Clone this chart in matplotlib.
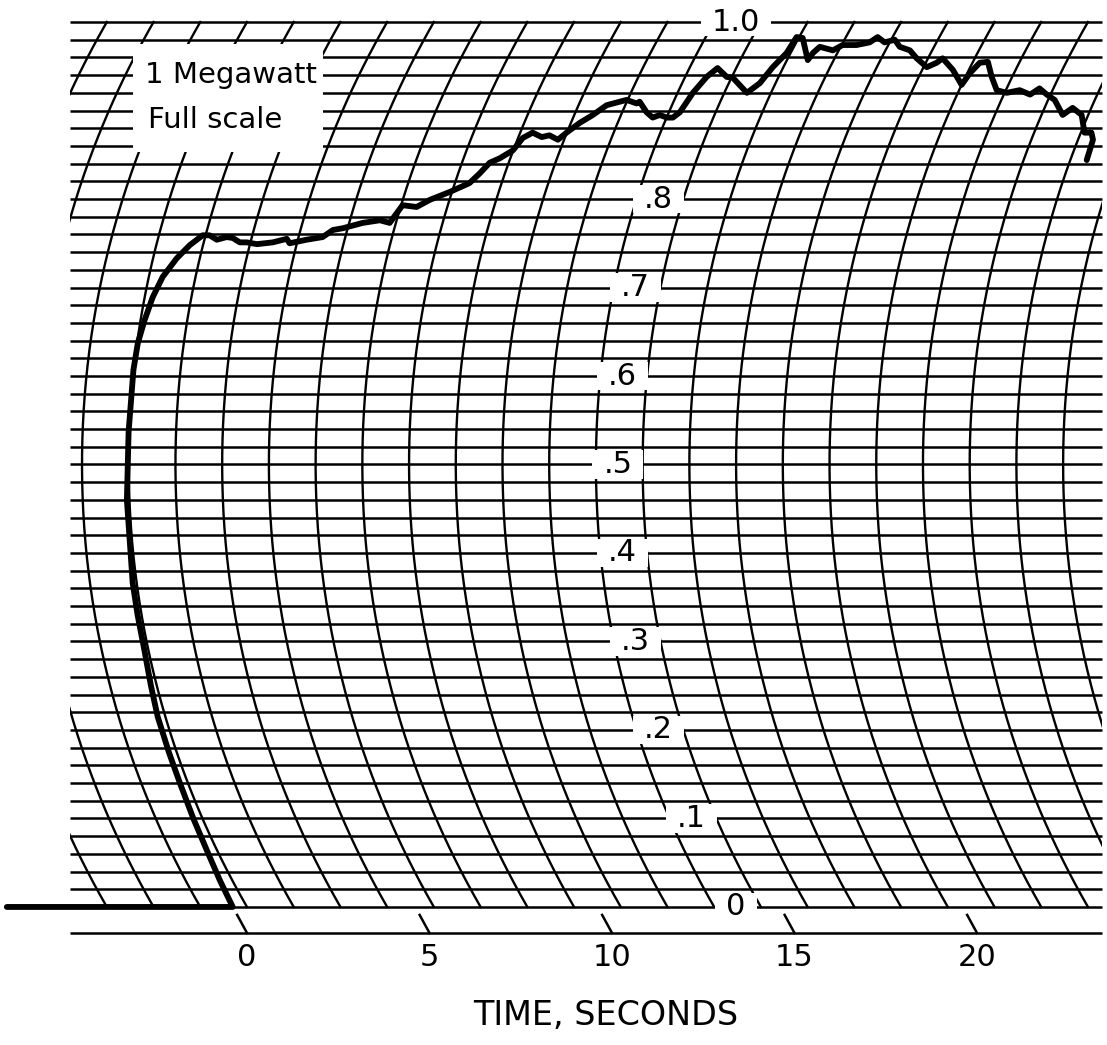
import numpy as np
import matplotlib.pyplot as plt
from matplotlib.patches import Rectangle

# pen trace: time (s) vs fraction of full scale (1 MW)
time_s = [-6.58, -0.39,
          -0.34, -0.28, -0.25, -0.22, -0.215, -0.21, -0.16, -0.11, -0.11, -0.11, -0.07,
          -0.02, -0.01, 0.02, 0.11, 0.22, 0.38, 0.65, 0.92, 1.20, 1.39,
          1.62, 1.87, 2.04, 2.27, 2.46, 2.75, 3.17, 3.53, 3.64, 4.08,
          4.50, 4.73, 4.99, 5.49, 5.94, 6.23, 6.44, 6.84, 7.14, 7.62,
          8.08, 8.27, 8.44, 8.67, 8.95, 9.09, 9.30, 9.60, 9.79, 10.07,
          10.23, 10.48, 10.75, 11.01, 11.33, 11.49, 11.81, 11.87, 12.19, 12.42,
          12.58, 12.81, 12.97, 13.10, 13.22, 13.39, 13.57, 13.94, 14.12, 14.70,
          14.93, 15.07, 15.25, 15.29, 15.47, 15.93, 15.97, 16.07, 16.48, 16.67,
          17.05, 17.37, 17.51, 17.78, 18.02, 18.26, 18.59, 18.89, 19.29, 19.50,
          19.60, 20.04, 20.48, 20.55, 20.68, 20.89, 21.20, 21.51, 21.82, 22.14,
          22.48, 22.66, 22.94, 23.22, 23.62, 23.81, 24.14, 24.42, 24.61, 24.73, 24.77]
power = [0.0, 0.0,
         0.030, 0.064, 0.100, 0.140, 0.175, 0.215, 0.250, 0.290, 0.330, 0.366, 0.460,
         0.537, 0.607, 0.637, 0.663, 0.689, 0.712, 0.733, 0.748, 0.759, 0.759,
         0.754, 0.757, 0.756, 0.751, 0.751, 0.749, 0.751, 0.755, 0.750, 0.754,
         0.757, 0.765, 0.767, 0.773, 0.776, 0.773, 0.793, 0.791, 0.799, 0.808,
         0.818, 0.829, 0.841, 0.846, 0.855, 0.869, 0.875, 0.870, 0.872, 0.867,
         0.875, 0.886, 0.895, 0.906, 0.910, 0.912, 0.908, 0.910, 0.898, 0.892,
         0.895, 0.892, 0.892, 0.898, 0.920, 0.938, 0.948, 0.938, 0.937, 0.920,
         0.931, 0.949, 0.965, 0.983, 0.982, 0.957, 0.965, 0.972, 0.968, 0.974,
         0.974, 0.977, 0.983, 0.977, 0.980, 0.972, 0.968, 0.959, 0.949, 0.954,
         0.959, 0.946, 0.929, 0.942, 0.954, 0.955, 0.938, 0.923, 0.920, 0.923,
         0.918, 0.925, 0.918, 0.912, 0.895, 0.903, 0.895, 0.875, 0.875, 0.867, 0.844]

time_ticks = [0, 5, 10, 15, 20]
scale_vals = [0.0, 0.1, 0.2, 0.3, 0.4, 0.5, 0.6, 0.7, 0.8, 1.0]
scale_text = ['0', '.1', '.2', '.3', '.4', '.5', '.6', '.7', '.8', '1.0']

# recorder paper geometry
px_per_s = 36.5      # chart speed
px_per_fs = 885.0    # full scale height
pen_radius = 887.0   # pen arm length
arc_step = 1.28      # time between curved grid lines
t_left, t_right = -4.85, 23.42
t_scale = 13.4


def bow(p):
    dy = px_per_fs * (np.asarray(p, dtype=float) - 0.5)
    return pen_radius - np.sqrt(pen_radius ** 2 - dy ** 2)


def paper_x(t, p):
    # pen swings on an arc, so the x position depends on the level too
    return np.asarray(t, dtype=float) - (bow(0.0) - bow(p)) / px_per_s


fig = plt.figure(figsize=(11.07, 10.45), dpi=100)
ax = fig.add_axes([0, 0, 1, 1])
ax.set_xlim(-6.767, 23.562)
ax.set_ylim(-0.156, 1.0249)
ax.axis('off')

# grid: straight levels and curved time lines
levels = np.arange(51) * 0.02
ax.hlines(levels, t_left, t_right, color='black', lw=1.8, zorder=1)
pp = np.linspace(0, 1, 300)
clip = Rectangle((t_left, -0.002), t_right - t_left, 1.004, transform=ax.transData)
for k in range(-4, 22):
    ln, = ax.plot(paper_x(k * arc_step, pp), pp, color='black', lw=1.7, zorder=1)
    ln.set_clip_path(clip)

# label box
ax.add_patch(Rectangle((-3.12, 0.853), 5.2, 0.122, facecolor='white',
                       edgecolor='none', zorder=2))
ax.text(-2.80, 0.940, '1 Megawatt', fontsize=21, ha='left', va='center', zorder=3)
ax.text(-2.72, 0.889, 'Full scale', fontsize=21, ha='left', va='center', zorder=3)

# scale numbers along one arc
labels = []
for v, s in zip(scale_vals, scale_text):
    labels.append(ax.text(paper_x(t_scale, v), v, s, fontsize=22, ha='center',
                          va='center', zorder=3))
fig.canvas.draw()
for lab, v in zip(labels, scale_vals):
    w = lab.get_window_extent().width / px_per_s + 0.6
    ax.add_patch(Rectangle((paper_x(t_scale, v) - w / 2, v - 0.016), w, 0.032,
                           facecolor='white', edgecolor='none', zorder=2))

# time axis
ax.hlines(-0.0294, t_left, t_right, color='black', lw=1.8)
for t in time_ticks:
    ax.plot([t - 0.27, t], [-0.009, -0.0294], color='black', lw=1.8)
    ax.text(t, -0.0576, str(t), fontsize=22, ha='center', va='center')
ax.text(9.84, -0.123, 'TIME, SECONDS', fontsize=24, ha='center', va='center')

ax.plot(paper_x(time_s, power), power, color='black', lw=4.2,
        solid_joinstyle='round', solid_capstyle='round', zorder=4)

fig.savefig('out.png', dpi=100, facecolor='white')
